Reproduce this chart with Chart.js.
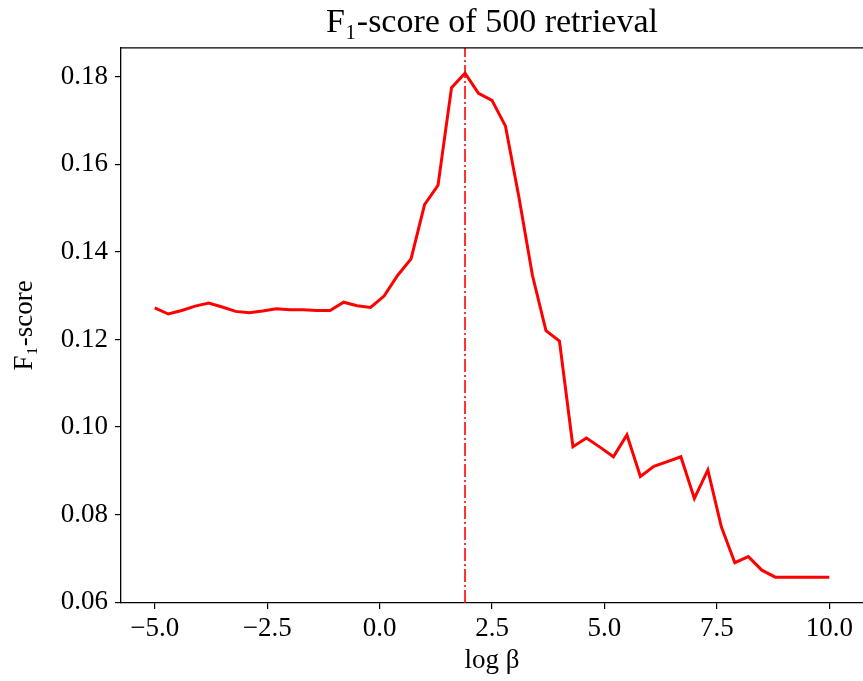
<!DOCTYPE html>
<html>
<head>
<meta charset="utf-8">
<script src="https://cdn.jsdelivr.net/npm/chart.js@4.4.1/dist/chart.umd.min.js"></script>
<style>
html,body{margin:0;padding:0;background:#fff;}
#wrap{width:863px;height:681px;position:relative;}
</style>
</head>
<body>
<div id="wrap"><canvas id="c" width="863" height="681"></canvas></div>
<script>
const logBeta = [-5.0,-4.7,-4.4,-4.1,-3.8,-3.5,-3.2,-2.9,-2.6,-2.3,-2.0,-1.7,-1.4,-1.1,-0.8,-0.5,-0.2,0.1,0.4,0.7,1.0,1.3,1.6,1.9,2.2,2.5,2.8,3.1,3.4,3.7,4.0,4.3,4.6,4.9,5.2,5.5,5.8,6.1,6.4,6.7,7.0,7.3,7.6,7.9,8.2,8.5,8.8,9.1,9.4,9.7,10.0];
const f1Scores = [0.1272,0.1258,0.1266,0.1276,0.1283,0.1274,0.1264,0.1261,0.1265,0.1270,
                  0.1268,0.1268,0.1266,0.1266,0.1285,0.1277,0.1273,0.1299,0.1346,0.1384,
                  0.1508,0.1552,0.1775,0.1808,0.1762,0.1746,0.1687,0.1524,0.1346,0.1220,
                  0.1196,0.0955,0.0975,0.0954,0.0932,0.0982,0.0887,0.0910,0.0921,0.0932,
                  0.0837,0.0902,0.0772,0.0690,0.0704,0.0673,0.0657,0.0657,0.0657,0.0657,
                  0.0657];
const bestLogBeta = 1.9;
const xTicks = [-5.0,-2.5,0.0,2.5,5.0,7.5,10.0];
const yTicks = [0.06,0.08,0.10,0.12,0.14,0.16,0.18];
const xRange = [-5.75, 10.75];
const yRange = [0.0598, 0.1866];

const FONT = "'Liberation Serif', 'Times New Roman', serif";

const curve = logBeta.map((x,i)=>({x:x, y:f1Scores[i]}));
const vline = [{x:bestLogBeta, y:yRange[0]},{x:bestLogBeta, y:yRange[1]}];

// top spine (right spine falls outside the picture in the reference)
const frame = {
  id:'frame',
  afterDraw(chart){
    const a = chart.chartArea, ctx = chart.ctx;
    ctx.save();
    ctx.strokeStyle = '#000';
    ctx.lineWidth = 1.3;
    ctx.beginPath();
    ctx.moveTo(a.left, a.top);
    ctx.lineTo(chart.width + 2, a.top);
    ctx.stroke();
    ctx.restore();
  }
};

new Chart(document.getElementById('c'), {
  type:'line',
  data:{
    datasets:[
      {data:curve, borderColor:'#ff0000', borderWidth:3, pointRadius:0, tension:0, fill:false, order:1},
      {data:vline, borderColor:'#ff0000', borderWidth:1.6, borderDash:[13,3,2,3], pointRadius:0, fill:false, order:2}
    ]
  },
  options:{
    responsive:false,
    animation:false,
    devicePixelRatio:1,
    layout:{padding:{left:0,right:0,top:0,bottom:0}},
    plugins:{
      legend:{display:false},
      tooltip:{enabled:false},
      title:{
        display:true,
        fullSize:false,
        text:'F\u2081-score of 500 retrieval',
        color:'#000',
        font:{family:FONT, size:34, weight:'normal', lineHeight:1.2},
        padding:{top:3, bottom:4}
      }
    },
    scales:{
      x:{
        type:'linear',
        min:xRange[0], max:xRange[1],
        afterBuildTicks(s){ s.ticks = xTicks.map(v=>({value:v})); },
        afterFit(s){ s.height = 78; },
        ticks:{
          color:'#000',
          font:{family:FONT, size:27},
          padding:4,
          maxRotation:0,
          autoSkip:false,
          callback:(v)=>Number(v).toFixed(1).replace('-','\u2212')
        },
        grid:{drawOnChartArea:false, drawTicks:true, tickLength:6, color:'#000', lineWidth:1.2},
        border:{display:true, color:'#000', width:1.3},
        title:{display:true, text:'log \u03B2', color:'#000', font:{family:FONT, size:27}, padding:{top:0,bottom:4}}
      },
      y:{
        type:'linear',
        min:yRange[0], max:yRange[1],
        afterBuildTicks(s){ s.ticks = yTicks.map(v=>({value:v})); },
        afterFit(s){ s.width = 121; },
        ticks:{
          color:'#000',
          font:{family:FONT, size:27},
          padding:7,
          autoSkip:false,
          callback:(v)=>Number(v).toFixed(2)
        },
        grid:{drawOnChartArea:false, drawTicks:true, tickLength:6, color:'#000', lineWidth:1.2},
        border:{display:true, color:'#000', width:1.3},
        title:{display:true, text:'F\u2081-score', color:'#000', font:{family:FONT, size:27}, padding:{top:9,bottom:0}}
      }
    }
  },
  plugins:[frame]
});
</script>
</body>
</html>
